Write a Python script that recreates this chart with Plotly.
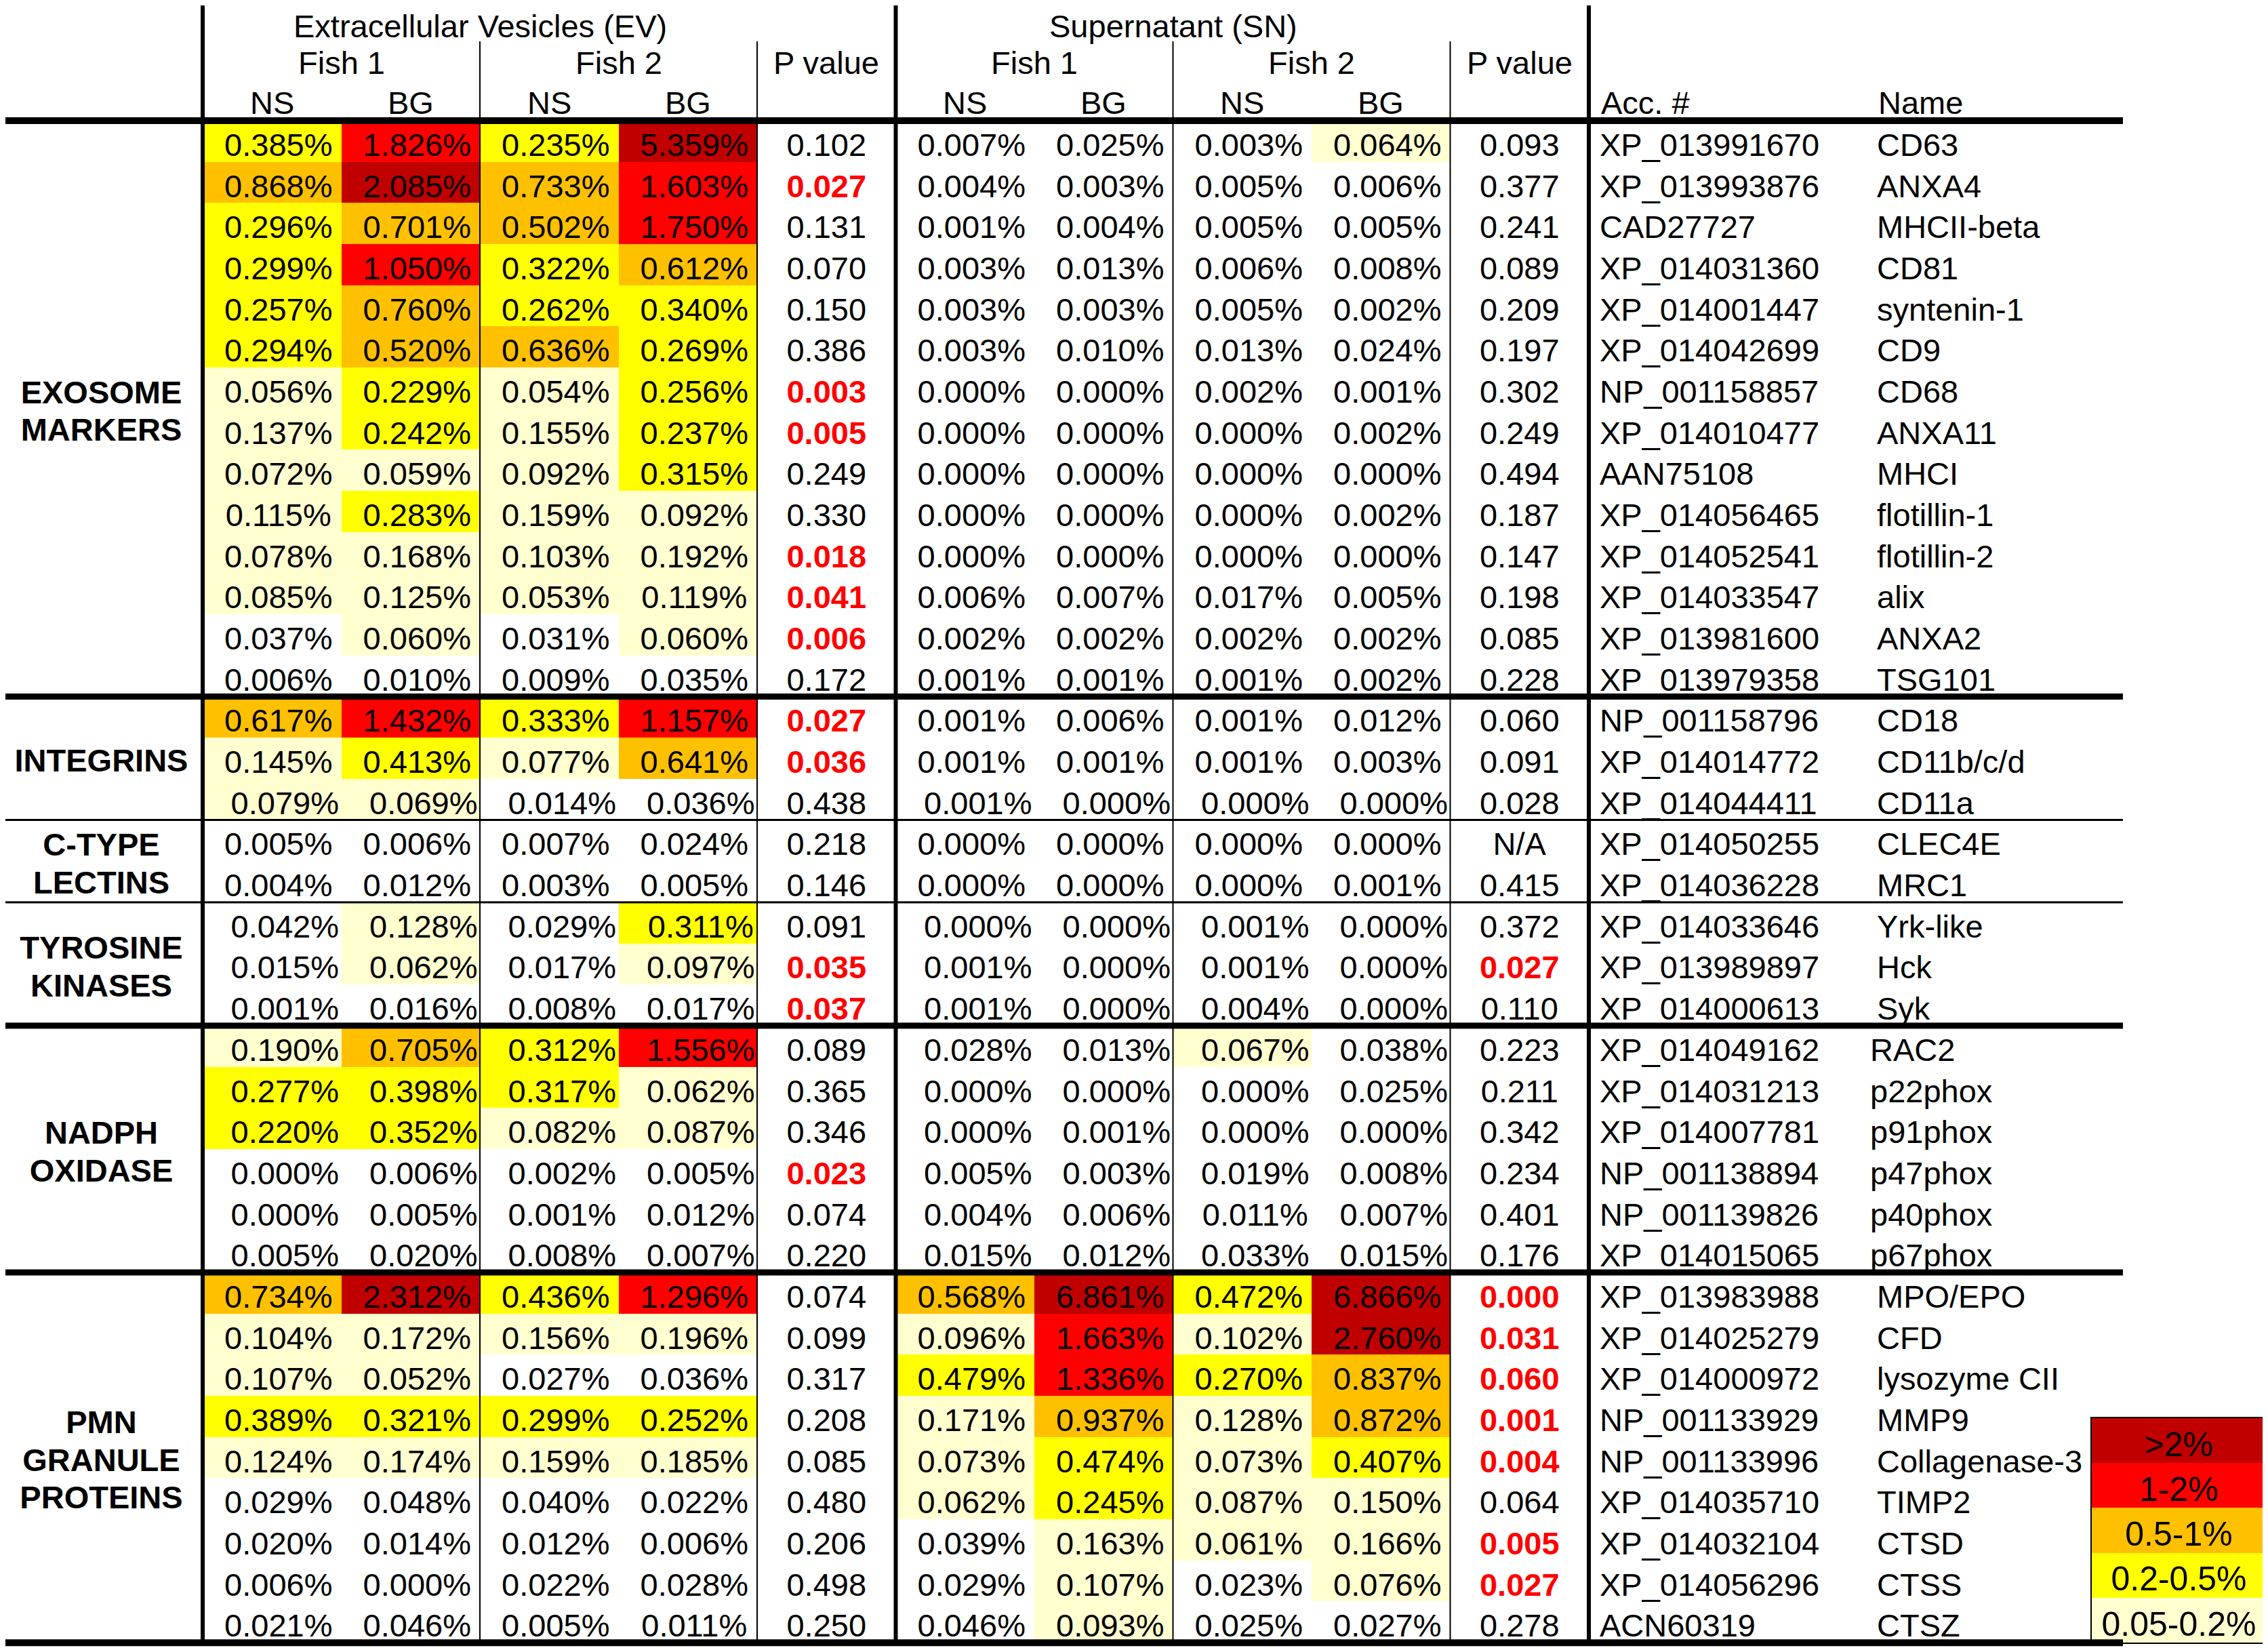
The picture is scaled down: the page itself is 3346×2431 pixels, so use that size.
import numpy as np
import plotly.graph_objects as go

# ---------------- data ----------------
groups = [["EXOSOME", "MARKERS"], ["INTEGRINS"], ["C-TYPE", "LECTINS"],
          ["TYROSINE", "KINASES"], ["NADPH", "OXIDASE"], ["PMN", "GRANULE", "PROTEINS"]]
group_sizes = [14, 3, 2, 3, 6, 9]
group_rule = ["thick", "medium", "medium", "thick", "thick", "thick"]

accessions = ["XP_013991670", "XP_013993876", "CAD27727", "XP_014031360", "XP_014001447",
              "XP_014042699", "NP_001158857", "XP_014010477", "AAN75108", "XP_014056465",
              "XP_014052541", "XP_014033547", "XP_013981600", "XP_013979358",
              "NP_001158796", "XP_014014772", "XP_014044411",
              "XP_014050255", "XP_014036228",
              "XP_014033646", "XP_013989897", "XP_014000613",
              "XP_014049162", "XP_014031213", "XP_014007781", "NP_001138894", "NP_001139826",
              "XP_014015065",
              "XP_013983988", "XP_014025279", "XP_014000972", "NP_001133929", "NP_001133996",
              "XP_014035710", "XP_014032104", "XP_014056296", "ACN60319"]
names = ["CD63", "ANXA4", "MHCII-beta", "CD81", "syntenin-1", "CD9", "CD68", "ANXA11", "MHCI",
         "flotillin-1", "flotillin-2", "alix", "ANXA2", "TSG101",
         "CD18", "CD11b/c/d", "CD11a",
         "CLEC4E", "MRC1",
         "Yrk-like", "Hck", "Syk",
         "RAC2", "p22phox", "p91phox", "p47phox", "p40phox", "p67phox",
         "MPO/EPO", "CFD", "lysozyme CII", "MMP9", "Collagenase-3", "TIMP2", "CTSD", "CTSS", "CTSZ"]

ev_fish1_ns = [0.385, 0.868, 0.296, 0.299, 0.257, 0.294, 0.056, 0.137, 0.072, 0.115, 0.078, 0.085, 0.037, 0.006,
               0.617, 0.145, 0.079, 0.005, 0.004, 0.042, 0.015, 0.001,
               0.190, 0.277, 0.220, 0.000, 0.000, 0.005,
               0.734, 0.104, 0.107, 0.389, 0.124, 0.029, 0.020, 0.006, 0.021]
ev_fish1_bg = [1.826, 2.085, 0.701, 1.050, 0.760, 0.520, 0.229, 0.242, 0.059, 0.283, 0.168, 0.125, 0.060, 0.010,
               1.432, 0.413, 0.069, 0.006, 0.012, 0.128, 0.062, 0.016,
               0.705, 0.398, 0.352, 0.006, 0.005, 0.020,
               2.312, 0.172, 0.052, 0.321, 0.174, 0.048, 0.014, 0.000, 0.046]
ev_fish2_ns = [0.235, 0.733, 0.502, 0.322, 0.262, 0.636, 0.054, 0.155, 0.092, 0.159, 0.103, 0.053, 0.031, 0.009,
               0.333, 0.077, 0.014, 0.007, 0.003, 0.029, 0.017, 0.008,
               0.312, 0.317, 0.082, 0.002, 0.001, 0.008,
               0.436, 0.156, 0.027, 0.299, 0.159, 0.040, 0.012, 0.022, 0.005]
ev_fish2_bg = [5.359, 1.603, 1.750, 0.612, 0.340, 0.269, 0.256, 0.237, 0.315, 0.092, 0.192, 0.119, 0.060, 0.035,
               1.157, 0.641, 0.036, 0.024, 0.005, 0.311, 0.097, 0.017,
               1.556, 0.062, 0.087, 0.005, 0.012, 0.007,
               1.296, 0.196, 0.036, 0.252, 0.185, 0.022, 0.006, 0.028, 0.011]
ev_p = ["0.102", "0.027", "0.131", "0.070", "0.150", "0.386", "0.003", "0.005", "0.249", "0.330", "0.018",
        "0.041", "0.006", "0.172", "0.027", "0.036", "0.438", "0.218", "0.146", "0.091", "0.035", "0.037",
        "0.089", "0.365", "0.346", "0.023", "0.074", "0.220",
        "0.074", "0.099", "0.317", "0.208", "0.085", "0.480", "0.206", "0.498", "0.250"]
ev_p_flag = [0, 1, 0, 0, 0, 0, 1, 1, 0, 0, 1, 1, 1, 0, 1, 1, 0, 0, 0, 0, 1, 1,
             0, 0, 0, 1, 0, 0, 0, 0, 0, 0, 0, 0, 0, 0, 0]

sn_fish1_ns = [0.007, 0.004, 0.001, 0.003, 0.003, 0.003, 0.000, 0.000, 0.000, 0.000, 0.000, 0.006, 0.002, 0.001,
               0.001, 0.001, 0.001, 0.000, 0.000, 0.000, 0.001, 0.001,
               0.028, 0.000, 0.000, 0.005, 0.004, 0.015,
               0.568, 0.096, 0.479, 0.171, 0.073, 0.062, 0.039, 0.029, 0.046]
sn_fish1_bg = [0.025, 0.003, 0.004, 0.013, 0.003, 0.010, 0.000, 0.000, 0.000, 0.000, 0.000, 0.007, 0.002, 0.001,
               0.006, 0.001, 0.000, 0.000, 0.000, 0.000, 0.000, 0.000,
               0.013, 0.000, 0.001, 0.003, 0.006, 0.012,
               6.861, 1.663, 1.336, 0.937, 0.474, 0.245, 0.163, 0.107, 0.093]
sn_fish2_ns = [0.003, 0.005, 0.005, 0.006, 0.005, 0.013, 0.002, 0.000, 0.000, 0.000, 0.000, 0.017, 0.002, 0.001,
               0.001, 0.001, 0.000, 0.000, 0.000, 0.001, 0.001, 0.004,
               0.067, 0.000, 0.000, 0.019, 0.011, 0.033,
               0.472, 0.102, 0.270, 0.128, 0.073, 0.087, 0.061, 0.023, 0.025]
sn_fish2_bg = [0.064, 0.006, 0.005, 0.008, 0.002, 0.024, 0.001, 0.002, 0.000, 0.002, 0.000, 0.005, 0.002, 0.002,
               0.012, 0.003, 0.000, 0.000, 0.001, 0.000, 0.000, 0.000,
               0.038, 0.025, 0.000, 0.008, 0.007, 0.015,
               6.866, 2.760, 0.837, 0.872, 0.407, 0.150, 0.166, 0.076, 0.027]
sn_p = ["0.093", "0.377", "0.241", "0.089", "0.209", "0.197", "0.302", "0.249", "0.494", "0.187", "0.147",
        "0.198", "0.085", "0.228", "0.060", "0.091", "0.028", "N/A", "0.415", "0.372", "0.027", "0.110",
        "0.223", "0.211", "0.342", "0.234", "0.401", "0.176",
        "0.000", "0.031", "0.060", "0.001", "0.004", "0.064", "0.005", "0.027", "0.278"]
sn_p_flag = [0, 0, 0, 0, 0, 0, 0, 0, 0, 0, 0, 0, 0, 0, 0, 0, 0, 0, 0, 0, 1, 0,
             0, 0, 0, 0, 0, 0, 1, 1, 1, 1, 1, 0, 1, 1, 0]

legend_labels = [">2%", "1-2%", "0.5-1%", "0.2-0.5%", "0.05-0.2%"]
bin_edges = [0.05, 0.2, 0.5, 1.0, 2.0]
bin_colors = ["#FFFFFF", "#FFFFD0", "#FFFF00", "#FFC000", "#FF0000", "#C00000"]

# rows whose cell text sits a little off in the original table
pct_nudged_rows = [16, 19, 20, 21, 22, 23, 24, 25, 26, 27]
name_nudged_rows = [22, 23, 24, 25, 26, 27]

# ---------------- layout constants (pixels of the 3346x2431 page) ----------------
PAGE_W, PAGE_H = 3346, 2431
OFF = 8                      # default body margin of the html page
W, H = PAGE_W - OFF, PAGE_H - OFF
COLW = 204.5                 # width of one data column
ROWH = 60.68                 # height of one data row
LEFT_PX = 299                # left thick rule (page px)
TOP_PX = 178                 # header rule (page px)
FONT = "Liberation Sans, Arial, sans-serif"
FS = 47
TEXT_DY = (4.7 + 5.1) / ROWH     # vertical placement of cell text
LINE_GAP = 55.5 / ROWH           # line spacing of the group labels


def ux(px):
    return -0.5 + (px - LEFT_PX) / COLW


def uy(px):
    return -0.5 + (px - TOP_PX) / ROWH


n_rows = len(names)
rows = list(range(n_rows))
pct_cols = [ev_fish1_ns, ev_fish1_bg, ev_fish2_ns, ev_fish2_bg, None,
            sn_fish1_ns, sn_fish1_bg, sn_fish2_ns, sn_fish2_bg, None]

# category matrix (rows x 10 columns), None for p-value columns
z = []
for r in rows:
    line = []
    for col in pct_cols:
        line.append(None if col is None else int(np.digitize(col[r], bin_edges)))
    z.append(line)

nb = len(bin_colors)
cscale = []
for k, c in enumerate(bin_colors):
    cscale.append([k / nb, c])
    cscale.append([(k + 1) / nb, c])

fig = go.Figure()
fig.add_trace(go.Heatmap(z=z, x=list(range(10)), y=rows, colorscale=cscale,
                         zmin=-0.5, zmax=nb - 0.5, showscale=False, hoverinfo="skip"))

# percentage texts
tx, ty, tt = [], [], []
for ci, col in enumerate(pct_cols):
    if col is None:
        continue
    for r in rows:
        shift = (19 if r in pct_nudged_rows else 9.5) / COLW
        tx.append(ci + shift)
        ty.append(r + TEXT_DY)
        tt.append(f"{col[r]:.3f}%")
fig.add_trace(go.Scatter(x=tx, y=ty, text=tt, mode="text", hoverinfo="skip",
                         textfont=dict(family=FONT, size=FS, color="black")))

# p values
for pcol, pvals, flags in [(4, ev_p, ev_p_flag), (9, sn_p, sn_p_flag)]:
    nrm = [r for r in rows if not flags[r]]
    sig = [r for r in rows if flags[r]]
    fig.add_trace(go.Scatter(x=[pcol] * len(nrm), y=[r + TEXT_DY for r in nrm],
                             text=[pvals[r] for r in nrm], mode="text", hoverinfo="skip",
                             textfont=dict(family=FONT, size=FS, color="black")))
    fig.add_trace(go.Scatter(x=[pcol] * len(sig), y=[r + TEXT_DY for r in sig],
                             text=[pvals[r] for r in sig], mode="text", hoverinfo="skip",
                             textfont=dict(family=FONT, size=FS, color="#FF0000", weight="bold")))

# accession and names
fig.add_trace(go.Scatter(x=[ux(2360)] * n_rows, y=[r + TEXT_DY for r in rows], text=accessions,
                         mode="text", textposition="middle right", hoverinfo="skip",
                         textfont=dict(family=FONT, size=FS, color="black")))
fig.add_trace(go.Scatter(x=[ux(2759) if r in name_nudged_rows else ux(2769) for r in rows],
                         y=[r + TEXT_DY for r in rows], text=names,
                         mode="text", textposition="middle right", hoverinfo="skip",
                         textfont=dict(family=FONT, size=FS, color="black")))

# group labels (one text per line)
starts = np.cumsum([0] + group_sizes[:-1])
gx, gy, gt = [], [], []
for s, n, lines in zip(starts, group_sizes, groups):
    centre = s + (n - 1) / 2
    for i, t in enumerate(lines):
        gx.append(ux(LEFT_PX / 2))
        gy.append(centre + (i - (len(lines) - 1) / 2) * LINE_GAP + (3 + 5.1) / ROWH)
        gt.append(t)
fig.add_trace(go.Scatter(x=gx, y=gy, text=gt, mode="text", hoverinfo="skip",
                         textfont=dict(family=FONT, size=FS, color="black", weight="bold")))

# header annotations
ann = []


def head(text, x, ypx, anchor="center"):
    ann.append(dict(text=text, x=x, y=uy(ypx), xref="x", yref="y", showarrow=False,
                    xanchor=anchor, yanchor="middle",
                    font=dict(family=FONT, size=FS, color="black")))


head("Extracellular Vesicles (EV)", 1.5, 38)
head("Supernatant (SN)", 6.5, 38)
for base in (0, 5):
    head("Fish 1", base + 0.5, 92)
    head("Fish 2", base + 2.5, 92)
    head("P value", base + 4, 92)
    for k, lab in enumerate(["NS", "BG", "NS", "BG"]):
        head(lab, base + k, 151)
head("Acc. #", ux(2360), 151, "left")
head("Name", ux(2769), 151, "left")

# rules
shapes = []
x_left, x_right = ux(0), ux(3132)
widths = {"edge": 10, "thick": 9, "medium": 3}


def hline(y, w):
    shapes.append(dict(type="line", xref="x", yref="y", x0=x_left, x1=x_right, y0=y, y1=y,
                       line=dict(color="black", width=w)))


def vline(x, y0, w):
    shapes.append(dict(type="line", xref="x", yref="y", x0=x, x1=x, y0=y0, y1=n_rows - 0.5,
                       line=dict(color="black", width=w)))


hline(-0.5, widths["edge"])
end = -0.5
for i, (n, rule) in enumerate(zip(group_sizes, group_rule)):
    end += n
    hline(end, widths["edge"] if i == len(group_sizes) - 1 else widths[rule])
for xv in (-0.5, 4.5, 9.5):
    vline(xv, uy(0), 6)
for xv in (1.5, 3.5, 6.5, 8.5):
    vline(xv, uy(61), 2)

# legend (colour key) as a small heatmap
n_leg = len(legend_labels)
lz = [[k] for k in range(nb - 1, 0, -1)]
fig.add_trace(go.Heatmap(z=lz, x=[0], y=list(range(n_leg)),
                         colorscale=cscale, zmin=-0.5, zmax=nb - 0.5, showscale=False,
                         hoverinfo="skip", xaxis="x2", yaxis="y2"))
LEG_TOP, LEG_BOT = 2092, 2423
leg_dy = (5 + 5.1) / ((LEG_BOT - LEG_TOP) / n_leg)
fig.add_trace(go.Scatter(x=[0] * n_leg, y=[i + leg_dy for i in range(n_leg)],
                         text=legend_labels, mode="text", hoverinfo="skip",
                         textfont=dict(family=FONT, size=50, color="black"),
                         xaxis="x2", yaxis="y2"))


def dom_x(p0, p1):
    return [(p0 - OFF) / W, (p1 - OFF) / W]


def dom_y(p_top, p_bot):
    return [(OFF + H - p_bot) / H, (OFF + H - p_top) / H]


axis_off = dict(visible=False, showgrid=False, zeroline=False)
fig.update_layout(
    width=W, height=H, margin=dict(l=0, r=0, t=0, b=0, pad=0),
    paper_bgcolor="white", plot_bgcolor="rgba(0,0,0,0)", showlegend=False, hovermode=False,
    xaxis=dict(range=[ux(OFF), ux(OFF + W)], domain=[0, 1], **axis_off),
    yaxis=dict(range=[uy(OFF + H), uy(OFF)], domain=[0, 1], **axis_off),
    xaxis2=dict(domain=dom_x(3086, 3343), anchor="y2", showgrid=False, zeroline=False,
                showticklabels=False, ticks="", showline=True, mirror=True,
                linecolor="black", linewidth=2, range=[-0.5, 0.5]),
    yaxis2=dict(domain=dom_y(LEG_TOP, LEG_BOT), anchor="x2", showgrid=False,
                zeroline=False, showticklabels=False, ticks="", showline=True, mirror=True,
                linecolor="black", linewidth=2, range=[n_leg - 0.5, -0.5]),
    annotations=ann, shapes=shapes,
)

fig.write_html("out.html")
